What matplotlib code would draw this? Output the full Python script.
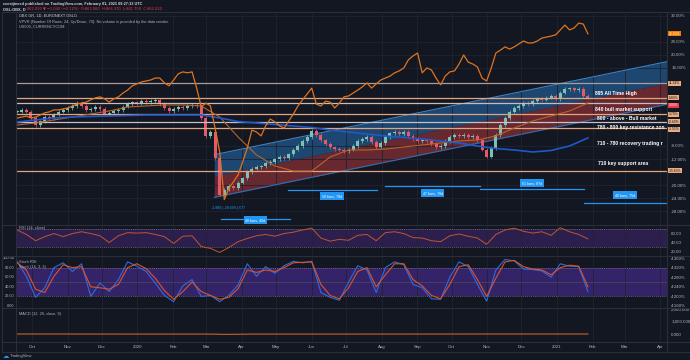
import numpy as np
import pandas as pd
import matplotlib
matplotlib.use('Agg')
import matplotlib.pyplot as plt
import matplotlib.dates as mdates
import matplotlib.transforms as mtransforms

plt.rcParams['font.family'] = ['Liberation Sans', 'DejaVu Sans']

# ====================================================
# values
candle_first = '2019-09-18'
candle_last = '2021-01-28'
obx_base = 838.0

obx_close = [859, 864, 859, 843, 825, 835, 846, 843, 853, 859,
             864, 869, 874, 882, 874, 864, 866, 872, 866, 853,
             856, 861, 864, 872, 879, 884, 882, 887, 884, 887,
             890, 879, 869, 861, 866, 872, 869, 874, 877, 874,
             843, 797, 807, 740, 645, 658, 668, 663, 676, 688,
             704, 712, 717, 719, 727, 730, 737, 743, 740, 750,
             761, 771, 784, 794, 810, 799, 786, 776, 768, 763,
             761, 758, 761, 771, 784, 789, 794, 781, 768, 779,
             794, 804, 807, 802, 807, 797, 789, 784, 786, 784,
             776, 768, 771, 784, 794, 799, 797, 799, 794, 797,
             786, 761, 743, 766, 799, 825, 843, 859, 869, 874,
             882, 879, 887, 892, 890, 895, 900, 892, 908, 918,
             920, 915, 918, 900, 895]

spx_pct = [0.6, 0.9, 1.2, 0.6, 0.9, 1.5, 2.2, 2.5, 3.1, 3.1,
           3.4, 3.7, 4.3, 4.9, 5.2, 5.5, 6.2, 6.8, 7.1, 6.5,
           5.5, 6.5, 7.1, 8.3, 9.2, 10.5, 11.1, 11.7, 12.0, 12.3,
           12.9, 12.9, 11.4, 10.5, 12.3, 14.2, 14.8, 14.5, 14.8, 9.8,
           4.0, 5.2, 4.3, -2.5, -9.8, -24.5, -21.0, -19.0, -16.9, -12.9,
           -8.6, -3.1, -3.7, -4.9, -1.8, 0.3, -0.6, -1.8, -2.5, -0.3,
           1.8, 4.3, 6.2, 8.0, 9.8, 4.9, 4.3, 5.8, 5.5, 3.7,
           5.2, 7.1, 7.4, 8.3, 9.2, 10.2, 11.4, 9.8, 11.1, 12.3,
           12.9, 13.5, 14.5, 15.1, 16.0, 18.5, 19.7, 20.6, 14.5, 16.0,
           15.4, 12.9, 10.8, 13.5, 14.8, 15.1, 17.2, 20.0, 17.8, 17.2,
           16.3, 12.9, 12.0, 16.0, 20.6, 21.5, 22.5, 21.8, 22.5, 23.4,
           24.3, 23.7, 23.7, 24.3, 25.2, 25.5, 25.8, 26.2, 27.7, 29.2,
           27.7, 28.3, 29.8, 29.5, 26.5]

# moving averages, one value every 4th candle
ma_slow = [825.1, 830.3, 838, 845.7, 853.5, 861.2, 871.5, 874.1, 876.7, 876.7,
           874.1, 845.7, 794.2, 747.8, 719.4, 706.5, 706.5, 742.6, 760.7, 760.7,
           763.2, 768.4, 773.6, 778.7, 783.9, 786.4, 796.8, 817.4, 835.4, 848.3,
           861.2, 881.8]
ma_200 = [832.8, 838, 843.2, 845.7, 847, 848.3, 849.6, 850.9, 850.9, 850.9,
          850.9, 843.2, 834.1, 830.3, 826.4, 822.5, 818.7, 812.2, 807.1, 801.9,
          796.8, 792.9, 789, 783.9, 778.7, 771, 764.5, 760.7, 755.5, 759.4,
          771, 791.6]

# oscillators, one value every 2nd candle
rsi_vals = [68, 58, 44, 53, 60, 53, 60, 64, 60, 55,
            40, 55, 62, 61, 62, 58, 53, 38, 54, 55,
            31, 27, 18, 29, 42, 49, 55, 58, 54, 60,
            63, 68, 72, 50, 43, 47, 45, 56, 58, 44,
            62, 64, 60, 51, 50, 44, 42, 55, 59, 54,
            50, 36, 58, 68, 72, 65, 61, 64, 56, 73,
            64, 58, 48]
stoch_k = [93, 62, 18, 38, 80, 90, 72, 88, 20, 48,
           30, 55, 92, 83, 72, 48, 22, 9, 42, 55,
           20, 22, 9, 22, 44, 88, 62, 82, 68, 84,
           93, 90, 93, 28, 18, 12, 50, 84, 75, 28,
           80, 92, 86, 45, 38, 15, 14, 60, 92, 82,
           45, 10, 75, 97, 94, 77, 76, 73, 60, 88,
           83, 82, 30]
stoch_d = [90, 75, 35, 28, 62, 86, 80, 82, 40, 38,
           35, 45, 80, 88, 78, 58, 32, 14, 30, 50,
           30, 22, 14, 18, 36, 75, 70, 75, 72, 80,
           90, 91, 92, 45, 22, 15, 38, 72, 80, 40,
           65, 88, 88, 55, 42, 22, 15, 45, 82, 86,
           55, 20, 58, 92, 95, 82, 77, 75, 65, 80,
           85, 83, 40]

macd_dates = ['2019-09-18', '2020-03-05', '2020-03-18', '2020-04-10', '2021-01-28']
macd_vals = [0, -8, -30, -6, 0]

# horizontal levels drawn on the chart
level_prices = [933, 895, 882, 853, 833, 817, 707]
level_colors = ['#a89c9c', '#e0a57c', '#c8bcb8', '#e0a57c', '#c4c0cc', '#e0a57c', '#e0a57c']
level_boxed = [True, True, False, True, True, True, True]

# regression channel
chan_dates = ['2020-03-08', '2021-04-07']
chan_mid = [693.6, 933.4]
chan_half = 55.0

# date range drawings: start, end, line pct, label, label pct
ranges = [('2020-03-14', '2020-05-13', -30.5, '48 bars, 49d', -30.8),
          ('2020-05-11', '2020-07-28', -21.5, '50 bars, 78d', -23.4),
          ('2020-08-04', '2020-10-26', -20.3, '47 bars, 78d', -22.5),
          ('2020-10-26', '2021-01-25', -21.2, '61 bars, 87d', -19.4),
          ('2021-01-25', '2021-04-06', -25.5, '40 bars, 75d', -23.1)]

# the two long notes run into the price scale and are cut there in the reference
notes = ['895 All Time High', '840 bull market support', '800 - above - Bull market',
         '780 - 800 key resistance zon', '710 - 780 recovery trading r', '710 key support area']

month_dates = ['2019-10-01', '2019-11-01', '2019-12-01', '2020-01-01', '2020-02-01', '2020-03-01',
               '2020-04-01', '2020-05-01', '2020-06-01', '2020-07-01', '2020-08-01', '2020-09-01',
               '2020-10-01', '2020-11-01', '2020-12-01', '2021-01-01', '2021-02-01', '2021-03-01',
               '2021-04-01']
month_labels = ['Oct', 'Nov', 'Dec', '2020', 'Feb', 'Mar', 'Apr', 'May', 'Jun', 'Jul', 'Aug',
                'Sep', 'Oct', 'Nov', 'Dec', '2021', 'Feb', 'Mar', 'Apr']

# ====================================================
W, H = 690, 360
BG = '#131722'
GRID = '#1f2331'
EDGE = '#2a2e39'
TXT = '#b2b5be'
UP = '#7cc1b4'
DOWN = '#e55a6a'


def px(x):
	return x / W


def py(y):
	return 1 - y / H


def pct(p):
	return (np.asarray(p, float) / obx_base - 1) * 100


def dnum(d):
	return mdates.date2num(pd.to_datetime(d))


fig = plt.figure(figsize=(W / 100, H / 100), dpi=100, facecolor=BG)
xmin, xmax = dnum('2019-09-17'), dnum('2021-04-07')
mnum = dnum(month_dates)


def add_panel(top, bottom):
	a = fig.add_axes([px(16), py(bottom), px(667) - px(16), (bottom - top) / H])
	a.set_facecolor(BG)
	a.set_xlim(xmin, xmax)
	for s in a.spines.values():
		s.set_visible(False)
	a.set_xticks(mnum)
	a.tick_params(axis='x', length=0, labelbottom=False)
	a.grid(axis='x', color=GRID, lw=0.6)
	a.yaxis.tick_right()
	a.tick_params(axis='y', length=0, labelsize=3.2, colors=TXT, pad=3)
	return a


# ---------------- main chart
ax = add_panel(14, 225)
ax.set_ylim(-32.3, 32.6)
close = np.array(obx_close, float)
openp = np.r_[close[0], close[:-1]]
c, o = pct(close), pct(openp)

# boxes on the price scale: (value, text colour, box colour)
boxes = [(float(pct(lv)), '#131722', '#e8ad80') for lv, b in zip(level_prices, level_boxed) if b]
boxes.append((float(c[-1] - 1.8), 'white', '#f23645'))
boxes.append((float(spx_pct[-1]), 'white', '#f57c00'))
boxes.sort(key=lambda b: -b[0])

yt = [v for v in np.arange(-28, 33, 4) if min(abs(v - b[0]) for b in boxes) > 2.0]
ax.set_yticks(yt)
ax.set_yticklabels(['%.2f%%' % v for v in yt])
ax.grid(axis='y', color=GRID, lw=0.6)

cd = dnum(chan_dates)
mid = np.array(chan_mid)
ax.fill_between(cd, pct(mid), pct(mid + chan_half), color='#1f4d7a', alpha=0.9, lw=0, zorder=1)
ax.fill_between(cd, pct(mid - chan_half), pct(mid), color='#722a32', alpha=0.9, lw=0, zorder=1)
ax.plot(cd, pct(mid + chan_half), color='#3b82c4', lw=0.8, zorder=2)
ax.plot(cd, pct(mid - chan_half), color='#2e6db4', lw=0.8, zorder=2)

for lv, lc in zip(level_prices, level_colors):
	ax.axhline(pct(lv), color=lc, lw=0.9, zorder=6)

cdates = dnum(pd.date_range(candle_first, candle_last, periods=len(obx_close)))
cols = np.where(c >= o, UP, DOWN)
lo, hi = np.minimum(o, c), np.maximum(o, c)
ax.vlines(cdates, lo - 0.5, hi + 0.5, colors=cols, lw=0.5, zorder=4)
ax.bar(cdates, np.maximum(hi - lo, 0.25), bottom=lo, width=2.6, color=cols, lw=0, zorder=5)

madates = cdates[::4]
ax.plot(madates, pct(ma_slow), color='#b5652a', lw=0.8, zorder=6)
ax.plot(madates, pct(ma_200), color='#2158c9', lw=1.2, zorder=6)
ax.plot(cdates, spx_pct, color='#df731f', lw=0.9, zorder=7)

for d0, d1, yl, lab, yb in ranges:
	ax.plot([dnum(d0), dnum(d1)], [yl, yl], color='#2196f3', lw=0.9, zorder=8)
	ax.text((dnum(d0) + dnum(d1)) / 2, yb, lab, color='white', fontsize=2.6, ha='center', va='center',
			zorder=9, bbox=dict(boxstyle='square,pad=0.5', fc='#2196f3', ec='none'))

ax.text(dnum('2020-03-20'), pct(632) - 2.6, '-1.880 (-28.69%) 677', color='#2196f3', fontsize=2.6,
		ha='center', va='center', zorder=9)

pix = mtransforms.Affine2D().scale(1.0 / W, -1.0 / H).translate(0, 1) + fig.transFigure
note_pos = [(595, 93), (595, 110), (597, 118), (597, 127), (597, 143), (598, 163)]
for (nx, ny), t in zip(note_pos, notes):
	ax.text(nx, ny, t, transform=pix, color='white', fontsize=3.65, fontweight='bold',
			va='center', ha='left', zorder=10, clip_on=True)

# value boxes, pushed apart a little where they would touch
tr = mtransforms.blended_transform_factory(ax.transAxes, ax.transData)
prev = None
for val, tc, fc in boxes:
	ypos = val if prev is None else min(val, prev - 2.3)
	prev = ypos
	ax.text(1.003, ypos, '%.2f%%' % val, transform=tr, fontsize=2.4, color=tc,
			va='center', ha='left', zorder=12, clip_on=False,
			bbox=dict(boxstyle='square,pad=0.15', fc=fc, ec='none'))

# ---------------- RSI
osc_dates = cdates[::2]
ax_r = add_panel(225, 256)
ax_r.set_ylim(10, 79)
ax_r.set_yticks([60, 40, 20])
ax_r.set_yticklabels(['60.00', '40.00', '20.00'])
ax_r.axhspan(30, 70, color='#2c1f4e', lw=0, zorder=0)
for lvl in (70, 30):
	ax_r.axhline(lvl, color='#787b86', lw=0.5, ls=(0, (1.5, 1.5)))
ax_r.plot(osc_dates, rsi_vals, color='#c0562f', lw=0.7)
ax_r.text(0.005, 0.86, 'RSI (14, close)', transform=ax_r.transAxes, fontsize=2.8, color=TXT)

# ---------------- Stoch RSI
ax_s = add_panel(256, 308)
ax_s.set_ylim(-4.2, 104.2)
ax_s.axhspan(20, 80, color='#35236a', lw=0, zorder=0)
for lvl in (80, 20):
	ax_s.axhline(lvl, color='#787b86', lw=0.5, ls=(0, (1.5, 1.5)))
ax_s.axhline(50, color='#4a4e5a', lw=0.5)
ax_s.plot(osc_dates, stoch_k, color='#2f6bdc', lw=0.8)
ax_s.plot(osc_dates, stoch_d, color='#d9542c', lw=0.8)
ax_s.set_yticks([100, 80, 60, 40, 20, 0])
ax_s.set_yticklabels(['4.360%', '4.320%', '4.280%', '4.240%', '4.200%', '4.160%'])
left_tr = mtransforms.blended_transform_factory(ax_s.transAxes, ax_s.transData)
for v in (100, 80, 60, 40, 20, 0):
	ax_s.text(-0.002, v, '%.2f' % v, transform=left_tr, fontsize=2.8, color=TXT,
			  ha='right', va='center', clip_on=False)
ax_s.text(0.005, 0.86, 'Stoch RSI', transform=ax_s.transAxes, fontsize=2.8, color=TXT)
ax_s.text(0.005, 0.76, 'Stoch (14, 3, 3)', transform=ax_s.transAxes, fontsize=2.8, color=TXT)

# ---------------- MACD
ax_m = add_panel(308, 342)
ax_m.set_ylim(-640, 2080)
ax_m.set_yticks([2000, 1000, 0])
ax_m.set_yticklabels(['2,000.000', '1,000.000', '0.000'])
ax_m.plot(dnum(macd_dates), macd_vals, color='#c8642a', lw=0.8)
ax_m.text(0.005, 0.78, 'MACD (12, 26, close, 9)', transform=ax_m.transAxes, fontsize=2.8, color=TXT)

# ---------------- time scale
ax_t = add_panel(342, 352)
ax_t.grid(False)
ax_t.set_ylim(0, 1)
ax_t.set_yticks([])
for d, lab in zip(mnum, month_labels):
	ax_t.text(d, 0.5, lab, fontsize=3.2, color=TXT, ha='center', va='center')

# ---------------- frame and header
frame = [((2, 2), (12, 352)), ((16, 16), (12, 352)), ((667, 667), (12, 352)),
		 ((2, 690), (12, 12)), ((2, 690), (225, 225)), ((2, 690), (256, 256)),
		 ((2, 690), (308, 308)), ((2, 690), (342, 342)), ((2, 690), (352, 352))]
for xs, ys in frame:
	fig.add_artist(plt.Line2D([px(v) for v in xs], [py(v) for v in ys], color=EDGE, lw=0.8))

fig.text(px(3), py(3.5), 'ceestjineed published on TradingView.com, February 01, 2021 09:27:13 UTC',
		 fontsize=2.8, color='#d1d4dc', fontweight='bold', va='center')
fig.text(px(3), py(9), 'OSL:OBX, D', fontsize=2.8, color='#d1d4dc', fontweight='bold', va='center')
fig.text(px(27), py(9), '862.020 \u25bc \u22121.040 (\u22120.12%)  O:863.060  H:866.370  L:861.750  C:862.020',
		 fontsize=2.6, color='#f23645', va='center', family=['DejaVu Sans'])
fig.text(px(19), py(16), 'OBX GR, 1D, EURONEXT OSLO', fontsize=2.8, color='#d1d4dc', va='center')
fig.text(px(19), py(21.5), 'VPVR (Number Of Rows, 24, Up/Down, 70): No volume is provided by the data vendor.',
		 fontsize=2.8, color=TXT, va='center')
fig.text(px(19), py(27), 'US500, CURRENCYCOM', fontsize=2.8, color=TXT, va='center')
fig.text(px(3), py(356), '\u2601', fontsize=4.5, color='#2196f3', va='center', family=['DejaVu Sans'])
fig.text(px(10), py(356), 'TradingView', fontsize=3, color=TXT, va='center')

fig.savefig('out.png', dpi=100, facecolor=BG)
